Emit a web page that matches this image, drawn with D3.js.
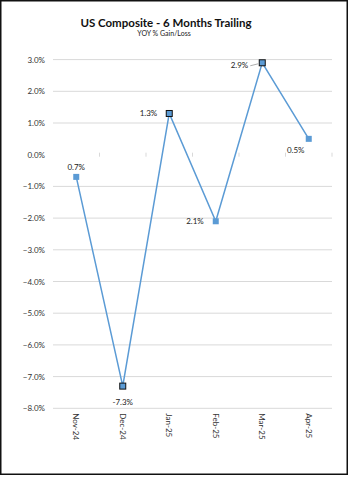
<!DOCTYPE html>
<html>
<head>
<meta charset="utf-8">
<script src="https://cdn.jsdelivr.net/npm/d3@7"></script>
<style>
  html, body { margin: 0; padding: 0; background: #fff; }
  svg { display: block; font-family: Lato, "Open Sans", sans-serif; }
</style>
</head>
<body>
<svg id="chart" width="350" height="477"></svg>
<script>
// Monthly categories and YOY % gain/loss (6-month trailing)
const months = ["Nov-24", "Dec-24", "Jan-25", "Feb-25", "Mar-25", "Apr-25"];
const yoyPct = [-0.7, -7.3, 1.3, -2.1, 2.9, 0.5];
const pointLabels = ["0.7%", "-7.3%", "1.3%", "2.1%", "2.9%", "0.5%"];
const labelSide = ["above", "below", "left", "left", "left", "below"];
const outlined = [false, true, true, false, true, false];
const yTicks = [3, 2, 1, 0, -1, -2, -3, -4, -5, -6, -7, -8];

const svg = d3.select("#chart");
const margin = { left: 53, right: 18, top: 59.6, bottom: 68.7 };
const W = 350, H = 477;

// outer chart frame
svg.append("rect")
  .attr("x", 0.75).attr("y", 0.75)
  .attr("width", 346.5).attr("height", 473.5)
  .attr("fill", "#fff").attr("stroke", "#111").attr("stroke-width", 1.5);

const x = d3.scaleBand().domain(months).range([margin.left, W - margin.right]);
const y = d3.scaleLinear().domain([-8, 3]).range([H - margin.bottom, margin.top]);

// horizontal gridlines (zero line is the axis, drawn only with tick marks)
svg.append("g").selectAll("line")
  .data(yTicks.filter(t => t !== 0))
  .join("line")
  .attr("x1", margin.left).attr("x2", W - margin.right)
  .attr("y1", d => y(d)).attr("y2", d => y(d))
  .attr("stroke", "#d9d9d9").attr("stroke-width", 1);

// y-axis labels
const yAxis = d3.axisLeft(y).tickValues(yTicks).tickFormat(d => d3.format(".1f")(d) + "%").tickSize(0).tickPadding(8);
const gy = svg.append("g").attr("transform", `translate(${margin.left},0)`).call(yAxis);
gy.select(".domain").remove();
gy.selectAll("text").attr("font-size", 8).attr("fill", "#333").attr("font-family", "Lato, sans-serif");

// category boundary tick marks on the zero line
const bounds = months.slice(1).map(m => x(m)).concat([x(months[months.length - 1]) + x.bandwidth()]);
svg.append("g").selectAll("line")
  .data(bounds)
  .join("line")
  .attr("x1", d => d).attr("x2", d => d)
  .attr("y1", y(0) - 2).attr("y2", y(0) + 2)
  .attr("stroke", "#d9d9d9").attr("stroke-width", 1);

// x-axis category labels, rotated, below the plot
svg.append("g").selectAll("text")
  .data(months)
  .join("text")
  .attr("transform", d => `translate(${x(d) + x.bandwidth() / 2},${y(-8) + 5}) rotate(90)`)
  .attr("dy", "0.35em")
  .attr("text-anchor", "start")
  .attr("font-size", 8).attr("fill", "#333")
  .text(d => d);

const cx = (d, i) => x(months[i]) + x.bandwidth() / 2;

// series line
const line = d3.line().x((d, i) => cx(d, i)).y(d => y(d));
svg.append("path")
  .datum(yoyPct)
  .attr("d", line)
  .attr("fill", "none").attr("stroke", "#5b9bd5").attr("stroke-width", 1.5);

// markers
const ms = 6;
svg.append("g").selectAll("rect")
  .data(yoyPct)
  .join("rect")
  .attr("x", (d, i) => cx(d, i) - ms / 2)
  .attr("y", d => y(d) - ms / 2)
  .attr("width", ms).attr("height", ms)
  .attr("fill", "#5b9bd5")
  .attr("stroke", (d, i) => outlined[i] ? "#111" : "none")
  .attr("stroke-width", 1);

// leader line for the peak label
svg.append("line")
  .attr("x1", cx(yoyPct[4], 4) - 12).attr("x2", cx(yoyPct[4], 4) - 4)
  .attr("y1", y(yoyPct[4]) + 3).attr("y2", y(yoyPct[4]) + 1)
  .attr("stroke", "#999").attr("stroke-width", 0.8);

// data labels
svg.append("g").selectAll("text")
  .data(yoyPct)
  .join("text")
  .attr("x", (d, i) => {
    if (labelSide[i] === "left") return cx(d, i) - (i === 4 ? 14 : 12);
    if (i === 5) return cx(d, i) - 13;
    return cx(d, i);
  })
  .attr("y", (d, i) => {
    if (labelSide[i] === "above") return y(d) - 10;
    if (labelSide[i] === "below") return y(d) + (i === 5 ? 11 : 16);
    return y(d) + (i === 4 ? 2 : 0);
  })
  .attr("dy", "0.35em")
  .attr("text-anchor", (d, i) => labelSide[i] === "left" ? "end" : "middle")
  .attr("font-size", 8).attr("fill", "#222")
  .text((d, i) => pointLabels[i]);

// titles
svg.append("text")
  .attr("x", 166).attr("y", 23).attr("dy", "0.35em")
  .attr("text-anchor", "middle")
  .attr("font-size", 11.5).attr("font-weight", "bold").attr("fill", "#111")
  .text("US Composite - 6 Months Trailing");
svg.append("text")
  .attr("x", 164).attr("y", 33.5).attr("dy", "0.35em")
  .attr("text-anchor", "middle")
  .attr("font-size", 7).attr("fill", "#222")
  .text("YOY % Gain/Loss");
</script>
</body>
</html>
